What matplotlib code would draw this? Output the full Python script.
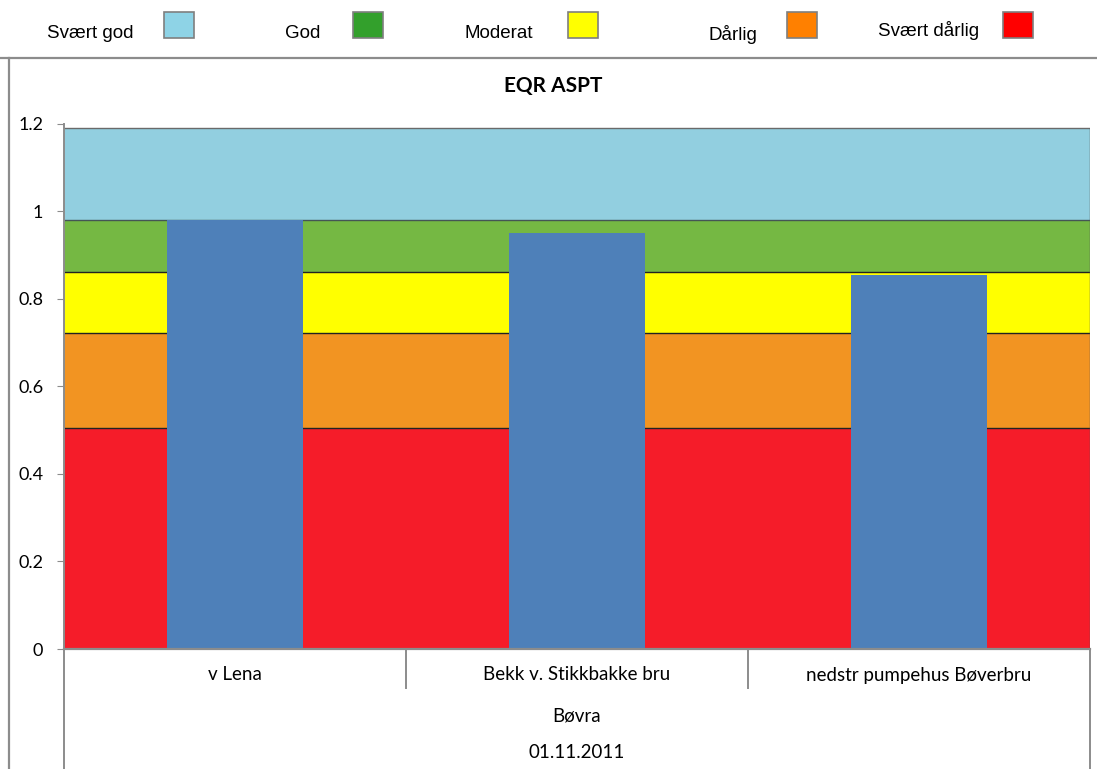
import matplotlib
matplotlib.use("Agg")
import matplotlib.pyplot as plt
from matplotlib.lines import Line2D
from matplotlib.patches import Rectangle

# Sampling sites and their EQR ASPT values
sites = ["v Lena", "Bekk v. Stikkbakke bru", "nedstr pumpehus Bøverbru"]
river = "Bøvra"
date = "01.11.2011"
eqr_values = [0.98, 0.95, 0.855]

# Class boundaries (upper limit of each class), from worst to best
class_names = ["Svært dårlig", "Dårlig", "Moderat", "God", "Svært god"]
class_tops = [0.505, 0.722, 0.861, 0.98, 1.19]
band_colors = ["#F51C29", "#F29422", "#FFFF00", "#75B843", "#92CFE0"]
legend_colors = ["#FF0000", "#FF8000", "#FFFF00", "#33A02C", "#8ED3E6"]

bar_color = "#4E80B9"
title = "EQR ASPT"
y_ticks = [0, 0.2, 0.4, 0.6, 0.8, 1, 1.2]

W, H = 1097, 769
fig = plt.figure(figsize=(W / 100, H / 100), dpi=100)

def fx(px):
    return px / W

def fy(py):
    return 1 - py / H

# Outer chart frame (top and left edges)
fig.add_artist(Line2D([fx(0), fx(W)], [fy(58), fy(58)], color="#8C8C8C", lw=1.6,
                      transform=fig.transFigure))
fig.add_artist(Line2D([fx(9), fx(9)], [fy(58), fy(H)], color="#8C8C8C", lw=1.6,
                      transform=fig.transFigure))

left, right, top, bottom = 64, 1090, 123.5, 649
ax = fig.add_axes([fx(left), fy(bottom), fx(right - left), (bottom - top) / H])

x = list(range(len(sites)))

# Background class bands as stacked full-width bars
prev = 0.0
for top_val, col in zip(class_tops, band_colors):
    ax.bar(x, [top_val - prev] * len(x), bottom=prev, width=1.0, color=col,
           linewidth=0, zorder=1)
    prev = top_val

# Boundary lines between classes
line_cols = ["#222222", "#222222", "#222222", "#445555", "#6A6A6A"]
for top_val, lc in zip(class_tops, line_cols):
    ax.hlines(top_val, -0.5, len(x) - 0.5, color=lc, lw=1.0, zorder=2)
ax.vlines(len(x) - 0.5, 0, class_tops[-1], color="#555555", lw=1.0, zorder=2)

# Measured values
ax.bar(x, eqr_values, width=0.4, color=bar_color, linewidth=0, zorder=3)

ax.set_xlim(-0.5, len(x) - 0.5)
ax.set_ylim(0, 1.2)
ax.set_yticks(y_ticks)
ax.set_yticklabels([f"{t:g}" for t in y_ticks], fontfamily="Lato", fontsize=13)
ax.tick_params(axis="y", direction="out", length=5, color="#8C8C8C", pad=10)
ax.set_xticks([])
for s in ["top", "right"]:
    ax.spines[s].set_visible(False)
ax.spines["left"].set_color("#8C8C8C")
ax.spines["left"].set_linewidth(1.4)
ax.spines["bottom"].set_color("#8C8C8C")
ax.spines["bottom"].set_linewidth(1.6)
ax.spines["bottom"].set_zorder(4)

# Multi-level category axis below the plot
trans = ax.get_xaxis_transform()
span = bottom - top
sep_depth = -39 / span
floor = -(H - bottom) / span
for xb in [k - 0.5 for k in range(1, len(x))]:
    ax.plot([xb, xb], [0, sep_depth], transform=trans, color="#8C8C8C", lw=1.4,
            clip_on=False)
for xb in [-0.5, len(x) - 0.5]:
    ax.plot([xb, xb], [0, floor], transform=trans, color="#8C8C8C", lw=1.4,
            clip_on=False)

cat_font = dict(ha="center", va="center", fontsize=13.5, fontfamily="Lato")
for xi, name in zip(x, sites):
    ax.text(xi, -(675 - bottom) / span, name, transform=trans, **cat_font)
ax.text((len(x) - 1) / 2, -(716 - bottom) / span, river, transform=trans, **cat_font)
ax.text((len(x) - 1) / 2, -(752 - bottom) / span, date, transform=trans, **cat_font)

# Title
fig.text(fx(553), fy(86), title, ha="center", va="center", fontsize=15,
         fontweight="bold", fontfamily="Lato")

# Legend row at the top
legend_order = ["Svært god", "God", "Moderat", "Dårlig", "Svært dårlig"]
text_x = [47, 285, 465, 708, 878]
text_y = [33, 33, 33, 34, 31]
box_x = [164, 353, 568, 787, 1003]
for name, tx, ty, bx in zip(legend_order, text_x, text_y, box_x):
    col = legend_colors[class_names.index(name)]
    fig.text(fx(tx), fy(ty), name, ha="left", va="center", fontsize=13.5,
             fontfamily="Liberation Sans")
    fig.add_artist(Rectangle((fx(bx), fy(38)), fx(30), 26 / H, facecolor=col,
                             edgecolor="#7F7F7F", lw=1.2, transform=fig.transFigure))

fig.savefig("out.png", dpi=100)
